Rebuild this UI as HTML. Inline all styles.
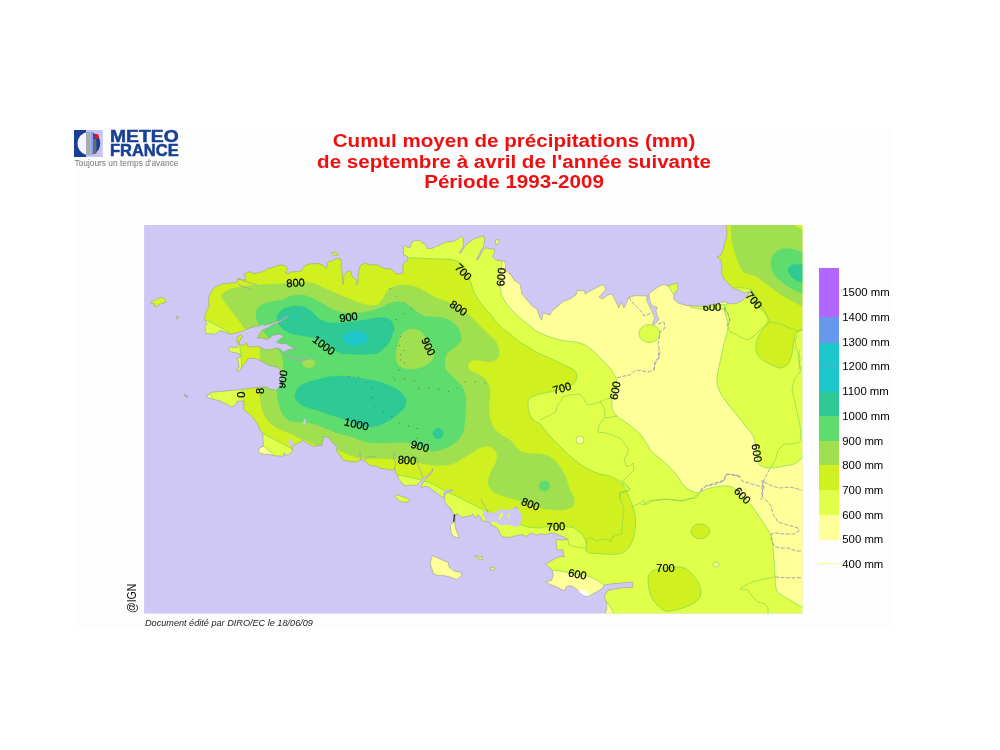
<!DOCTYPE html>
<html lang="fr">
<head>
<meta charset="utf-8">
<title>Cumul moyen de précipitations (mm)</title>
<style>
html,body{margin:0;padding:0;background:#fff;}
body{width:1000px;height:750px;position:relative;overflow:hidden;font-family:"Liberation Sans",Arial,sans-serif;}
.panel{position:absolute;left:74px;top:128px;width:816px;height:501px;background:#fdfdfd;}
.map{position:absolute;left:0;top:0;}
.title{position:absolute;left:213.6px;top:131.2px;width:600px;text-align:center;color:#ee1010;font-weight:bold;font-size:17.6px;line-height:20.4px;white-space:nowrap;transform:scaleX(1.17);transform-origin:50% 0;}
.logo{position:absolute;left:74px;top:129px;width:106px;height:40px;}
.logo .ic{position:absolute;left:0;top:1px;}
.logo .n1,.logo .n2{position:absolute;left:36.4px;color:#173f96;font-weight:bold;font-size:15.9px;line-height:14px;white-space:nowrap;transform-origin:0 0;-webkit-text-stroke:0.5px #173f96;}
.logo .n1{top:0.9px;transform:scaleX(1.215);}
.logo .n2{top:15.4px;transform:scaleX(1.037);}
.logo .tag{position:absolute;left:0.4px;top:29.9px;font-size:8.4px;line-height:9px;color:#777;white-space:nowrap;}
.sw{position:absolute;left:819px;width:20.3px;}
.ll{position:absolute;left:842.3px;font-size:11.35px;line-height:14px;color:#000;white-space:nowrap;}
.l400{position:absolute;left:820px;top:563.3px;width:19px;height:1px;background:#ffff99;}
.foot{position:absolute;left:145px;top:616.7px;font-size:9.13px;line-height:12px;font-style:italic;color:#222;white-space:nowrap;}
.ign{position:absolute;left:123.6px;top:612.9px;font-size:10.5px;line-height:12px;color:#111;transform-origin:0 0;transform:rotate(-90deg) scaleY(1.2);white-space:nowrap;}
</style>
</head>
<body>
<div class="panel"></div>
<svg class="map" width="1000" height="750" viewBox="0 0 1000 750">
<defs><clipPath id="frame"><rect x="144.1" y="225.0" width="658.1999999999999" height="388.5"/></clipPath>
<clipPath id="land"><path d="M726,225L727,232L726.4,238L725,242L723,250L721,255L717,257L721,260L722,266L721.6,274L724,279L729,284L734,289L740,290.4L744,293L749,292L752,290L747,296L743,300L738,303L730,304L724,301.6L716,304L700,306.4L686,305.4L678,303L673.6,299L674,294L678,289L677,283L668,285.6L663,284.4L658,287L652.4,291L648.8,294L650,301.2L652.4,306L657.2,307.2L656,310.8L657.2,315.6L659,319.2L657.2,321.6L653.6,325.2L652.4,324L654.8,318L652.4,312L649.4,306L646.4,299.4L647.2,296L642.8,295.8L636,295.6L629,297L626,304L624,308L621,302L619,308L616,302L612,294L608,295L602,299L599,297L606,289L603,284.4L598,287L590,291L585,294L585,291L577,290.4L576,295L570,299L564,301L558,306L552,311L550,315L543,313L542,320L540,318L537,309L532,306L527,300L522,294L520,284L514,280L510,273L510,274.2L505.2,269.4L505.8,265.8L504.6,261L500.4,261L495.6,259.8L492,256.2L494.4,253.8L494.4,249L490.8,249L486,247.8L483.6,249L478.2,259.2L476.6,259.6L481.8,249L483,247.8L484.8,239.4L483.6,235.8L480,237L474,238.8L468,243L465,246L460.8,253.2L459.4,252.6L463.4,246.4L463.4,243L463.2,238.2L460.8,236.4L457.2,239.4L452.4,241.8L446.4,241.8L441.6,244.2L435.6,246.6L432,248.4L427.2,248.4L426,244.8L422.4,243L420,240.6L415.8,240.4L411.6,242.4L410.4,247.2L406.8,247.2L405,245.4L403.2,247.2L403.8,250.8L403.2,255L408,256.8L407.4,261L403.2,263.4L402.6,267L403.2,273L397.2,274.2L394.8,272.4L391.8,269.4L390,268.8L390,269L384,268.4L379.2,265.4L374.4,264.8L369.6,264.8L364.8,263L360,266L358.8,270.8L358.2,275.6L358.2,281.6L356.4,285.2L357,280.4L354,278L351,275L351.6,272L349.2,270.8L346.8,272L343.8,275.6L343.4,284.6L342.2,280.4L342.6,275.6L342,270.8L341,266L341.8,262.4L340.8,258.8L335.4,258.6L334.8,260L330,261.2L327.6,262.4L326.4,268.4L322.8,264.8L318,263.6L312,263.6L306,264.8L302.4,268.4L301.8,270.8L298.8,271.4L290.4,272L288,273.8L285.6,272.6L288,268.4L285.6,266L280.2,264.8L274.8,266.6L270,268.4L268,268L266,270L260,272.4L254,273.6L249,271.6L244.4,274L246,280L242,279.6L238,278L237,282.4L230,283L222,284L217,286L213,289L210,294L208.4,300L209,306L206,312L204.4,319L207,324L204.8,326.4L206,333.6L215.6,334.2L219.2,330.6L224,331.8L230,334.2L236,333L242,331.2L248,328.8L252.8,327L260,325.8L261.8,324L264.8,325.2L269.6,324L276.8,321.6L282.8,319.2L287.6,316.2L288.2,317L278,322.8L272,325.2L267.2,328.2L262.4,330L258.8,334.8L257,338.4L262.4,337.8L265.4,339.6L269.6,338.4L272,335.4L275.6,334.8L279.2,334.2L282.8,335.4L284,337.2L280.4,338.4L278,340.8L276.8,342.6L281.6,343.8L286.4,343.2L288.8,345.6L293.6,348L297.2,348.6L291.2,349.2L286.4,350.4L284,352.2L287.6,355.2L293.6,358.8L302,360L310.4,358.8L302,360.6L294.8,359.4L288.8,357L284,352.8L281.6,350.4L278,348L274.4,348.6L269.6,349.8L264.8,349.8L261.2,347.4L257.6,346.2L252.8,346.8L248,347L246.8,342.6L244.4,344.4L242,345.6L239.6,344.4L239,342L242.6,336L240.8,334.8L237.2,337.2L236.6,340.8L238.4,344.4L237.2,347.4L233.6,347.4L230,346.8L228.6,349.2L231.2,352.2L236,352.8L239.6,354L240.8,356.4L237.2,358.2L238.4,362.4L239,367.2L236.6,370.2L238.4,371.4L242,367.2L245.6,362.4L248,358.8L251.6,358.2L256.4,358.8L260,360.6L263.6,362.4L267.2,364.8L272,366L276.8,367.2L280.4,369.6L281.6,372L281.6,378L280.4,384L279.2,387.6L276,390L270,389L266,387L260,387L252,388L244,389L236,390L226,391L218,391.6L210,392.4L206,397L212,399L220,401L226,404L232,407L237,403.6L237,401L244,401L243.6,409.6L248.4,413.2L253.2,418L256.8,422.8L259.2,427.6L261,431.8L262.8,433.6L263,439.6L263.4,446.2L259.2,448L258.6,452.8L264,454.2L270,454.6L274.8,455.8L283.2,456.2L284.4,452.8L285.6,455.2L289.2,454.6L292.8,450.4L292.2,447.4L292.8,445.6L296.4,443.8L301.2,442L302.4,440.2L305.4,442L309.6,444.4L313.2,446.2L321.6,445.6L322.8,442L323.4,437.2L326.4,436.6L329.4,437.8L331.2,441.4L334.8,445L337.8,446.8L336,450.4L339.6,454.6L343.2,460L350.4,461.8L357.6,461.8L360,460L360.4,460L364,460L367.6,463.6L371.2,466L376,465.8L379.6,468.4L385.6,469L392.8,470.2L394.6,468.4L395.2,472L397.6,475.6L398.8,479.2L401.2,482.2L404.8,485.8L409.6,485.4L416.8,485.2L419.2,482.8L421.6,480.4L422.8,478L426.4,476.2L431.2,472L433,468.4L432.2,472.2L428.8,476.2L425.2,479.2L422.8,482.8L421.6,485.2L421,488.2L424,486.4L428.8,487L432.4,490L436,492.4L439.6,495.4L443.2,497.8L444.4,492.4L448,490.6L452.8,490L450.4,491.8L446.8,493L444.4,496L444.4,500.8L446.8,505L450.4,508L452.8,512.8L454,516.4L455,514.8L454.2,522L455.1,522L456.2,513.6L459.2,514.8L461.6,517.2L466.4,516.6L471.2,515.4L473,514.2L476,518.4L477.8,514.8L480.8,517.2L482,520.8L486.2,521.4L490.4,523L491,525L496.4,527.4L499.4,531L500,534.6L503.6,537L509.6,537.4L515.6,535.8L521.6,534.6L526.4,536.4L529.4,534L532.4,532.8L536,535.2L540.8,534L545.6,534.6L551.6,532.8L556.4,534L561.2,535.8L566,538.2L568.4,539.4L562.4,540L557,539.4L555.8,541.8L557,546L555.8,549L558.8,550.2L562.4,549.6L563.6,552L563,555L564.8,556.8L560,556.4L554,559.2L549.2,562.2L545,564.4L549.2,567L552.2,570.6L553.4,575.4L551.6,580.2L545.6,582L550.4,584.4L556.4,586.8L562.4,589.8L565.4,590.4L566,586.8L569.6,585.6L573.2,586.8L576.8,589.2L580.4,592.2L584,595.8L588.8,596.4L592.4,594L597.2,591.6L602,588.6L604.4,585L611.6,583.8L620,583.2L626,582.4L629.6,582L632.6,582.4L633,585L632,588L628.4,587.4L621.2,588L614,589.2L608,590.4L605.6,593.4L604.4,597.6L606.8,603L606.8,609L605,614.4L810,620L810,220ZM150.2,302.6L154.4,300.2L158,298.4L161.6,297.2L164.6,299L166.4,302L162.8,303.2L159.2,304.4L156.8,306.2L153.8,306.2L155,303.8L152,303.2ZM176.2,316.6L178,316.2L178.6,317.8L177.2,318.8L176,318ZM331,253.4L333,252.2L336,252.6L338.6,254.6L337.2,255.4L333.6,255ZM495.6,240L498.6,239.4L499,241.8L497.4,244.8L495.6,244.2ZM394.6,495.8L397.6,494.8L402.4,496.6L407.2,498.4L409.6,500.2L409,502.2L405.4,501.8L402.4,502.2L398.8,500.2L395.8,497.8ZM432.4,555.6L438,558L444,561L448,562L449,567L454,571L461,572.4L461.6,575.6L457,579.4L450,577L444,575.6L438,575.6L433,573L432,569L430.4,565L431,559ZM474.4,555.2L480,557L482.4,556.4L482,560L478,558.4ZM490,568L493,567L495,568L494,570L491,570.4ZM454.2,522.2L450.2,525L450.8,530.4L452,535.2L455.6,537L459.2,538.2L458,534.6L456.2,530.4L455.1,525.6L455.1,522.2ZM184,394.4L186,395.2L188,396.8L187.2,397.2L185.2,396Z"/></clipPath></defs>
<g clip-path="url(#frame)">
<rect x="140" y="220" width="670" height="400" fill="#cfc8f5"/>
<g clip-path="url(#land)">
<rect x="140" y="220" width="670" height="400" fill="#e0ff4a"/>
<path d="M502,250C485.7,253.7 502.3,257.8 502,262C501.7,266.2 500.3,271 500,275C499.7,279 499.7,282.5 500,286C500.3,289.5 500.3,292.3 502,296C503.7,299.7 507,304.3 510,308C513,311.7 516.7,315 520,318C523.3,321 526.7,323.5 530,326C533.3,328.5 535,330.7 540,333C545,335.3 553.3,338.3 560,340C566.7,341.7 574.7,341.3 580,343C585.3,344.7 588.3,347.2 592,350C595.7,352.8 599,357 602,360C605,363 607.8,365.3 610,368C612.2,370.7 613.8,373.3 615,376C616.2,378.7 617.3,380.7 617,384C616.7,387.3 613.8,392 613,396C612.2,400 611.3,404.7 612,408C612.7,411.3 614.3,413.3 617,416C619.7,418.7 624.2,421 628,424C631.8,427 636.7,430.3 640,434C643.3,437.7 646,443 648,446C650,449 649.3,449.3 652,452C654.7,454.7 660,458.3 664,462C668,465.7 672.7,470 676,474C679.3,478 681,483 684,486C687,489 691.3,491 694,492C696.7,493 697.3,492.7 700,492C702.7,491.3 706,489 710,488C714,487 720,486 724,486C728,486 731,486.3 734,488C737,489.7 739,493 742,496C745,499 749,502.3 752,506C755,509.7 757.3,514 760,518C762.7,522 766,526.3 768,530C770,533.7 771,535 772,540C773,545 773.5,554 774,560C774.5,566 774.7,571.3 775,576C775.3,580.7 775.2,585 776,588C776.8,591 777.7,592 780,594C782.3,596 786.3,597.8 790,600C793.7,602.2 798.3,605.3 802,607C805.7,608.7 810.3,635.2 812,610C813.7,584.8 813.7,481.5 812,456C810.3,430.5 804,456.3 802,457C800,457.7 801.3,458.8 800,460C798.7,461.2 796.7,463 794,464C791.3,465 787.7,465.3 784,466C780.3,466.7 775.3,467.8 772,468C768.7,468.2 766.3,468 764,467C761.7,466 759.5,466.2 758,462C756.5,457.8 756,446.7 755,442C754,437.3 753.8,437 752,434C750.2,431 746.7,427.3 744,424C741.3,420.7 738.7,417.3 736,414C733.3,410.7 730.7,407.7 728,404C725.3,400.3 721.8,396 720,392C718.2,388 717,385 717,380C717,375 718.8,368 720,362C721.2,356 722.7,350 724,344C725.3,338 728,332 728,326C728,320 724.7,314 724,308C723.3,302 744.7,301.3 724,290C703.3,278.7 637,246.7 600,240C563,233.3 518.3,246.3 502,250Z" fill="#ffff99" stroke="#7ed957" stroke-width="0.7"/>
<path d="M552.2,570.6C554.2,569.5 557.3,570.9 560,571.2C562.7,571.5 565.4,571.9 568.4,572.4C571.4,572.9 574.8,573.6 578,574.2C581.2,574.8 584.8,575.2 587.6,576C590.4,576.8 592.8,578 594.8,579C596.8,580 598.1,581 599.6,582C601.1,583 602.6,583.3 603.8,585C605,586.7 607.9,590.2 606.8,592.2C605.7,594.2 601,596 597.2,597C593.4,598 589.2,599 584,598.2C578.8,597.4 572.6,594.8 566,592.2C559.4,589.6 547.4,585 544.4,582.6C541.4,580.2 546.7,579.8 548,577.8C549.3,575.8 550.2,571.7 552.2,570.6Z" fill="#ffff99" stroke="#7ed957" stroke-width="0.7"/>
<path d="M605.6,601.8L607,601.8L614.6,614.4L604.4,614.4Z" fill="#ffff99" stroke="#7ed957" stroke-width="0.7"/>
<path d="M264,446.2L258,447.4L256.8,454L270,455.8L274.8,456.2L268.8,450.4Z" fill="#ffff99" stroke="#7ed957" stroke-width="0.7"/>
<path d="M205,397L211,394L212.4,399.4Z" fill="#ffff99" stroke="#7ed957" stroke-width="0.7"/>
<ellipse cx="649.5" cy="333.5" rx="10.5" ry="9" fill="#e0ff4a" stroke="#7ed957" stroke-width="0.7"/>
<path d="M668,285.6L677,282.4L678.4,289L673.6,294.4Z" fill="#e0ff4a" stroke="#7ed957" stroke-width="0.7"/>
<path d="M686,303L700,305.5L712,306L724,304L726,309L712,309.5L700,309L690,307Z" fill="#e0ff4a" stroke="#7ed957" stroke-width="0.7"/>
<path d="M404,240C404,242.7 401.3,253 404,256C406.7,259 414,257.5 420,258C426,258.5 434.3,258.7 440,259C445.7,259.3 450,258.8 454,260C458,261.2 461.3,262.7 464,266C466.7,269.3 468.3,275.7 470,280C471.7,284.3 472.3,288.3 474,292C475.7,295.7 477.3,298.3 480,302C482.7,305.7 486.7,310 490,314C493.3,318 496.7,322.7 500,326C503.3,329.3 506.7,331.3 510,334C513.3,336.7 516.7,339.7 520,342C523.3,344.3 526.7,346 530,348C533.3,350 536.3,352.2 540,354C543.7,355.8 548,357.2 552,359C556,360.8 560.3,363.2 564,365C567.7,366.8 571.8,368.2 574,370C576.2,371.8 576.8,374 577,376C577.2,378 576.2,380.3 575,382C573.8,383.7 574.2,384.3 570,386C565.8,387.7 555,390.7 550,392C545,393.3 543.3,393 540,394C536.7,395 532,396.2 530,398C528,399.8 528,402.2 528,405C528,407.8 528.7,412.2 530,415C531.3,417.8 534.3,420.5 536,422C537.7,423.5 537.7,421.7 540,424C542.3,426.3 546.7,432.3 550,436C553.3,439.7 556.7,442.7 560,446C563.3,449.3 566.7,453 570,456C573.3,459 576.7,461.7 580,464C583.3,466.3 586.7,468.3 590,470C593.3,471.7 596.7,473 600,474C603.3,475 606.7,474.7 610,476C613.3,477.3 617.3,479.7 620,482C622.7,484.3 624.3,487 626,490C627.7,493 628.7,496.7 630,500C631.3,503.3 633.1,506.3 634,510C634.9,513.7 635.6,517.7 635.6,522C635.6,526.3 634.9,532 634,536C633.1,540 632,543.2 630,546C628,548.8 625.3,551.6 622,553C618.7,554.4 614,554.3 610,554.4C606,554.5 601.8,554 598,553.6C594.2,553.2 589,553.9 587,552C585,550.1 586.7,544.7 586,542C585.3,539.3 584.3,537.8 583,536C581.7,534.2 580.2,532.5 578,531C575.8,529.5 575.3,527.7 570,527C564.7,526.3 551,526.8 546,527C541,527.2 543,528 540,528C537,528 532,527.8 528,527C524,526.2 520,524.5 516,523C512,521.5 508,519.7 504,518C500,516.3 495.3,514.3 492,513C488.7,511.7 487.3,511.5 484,510C480.7,508.5 476,506 472,504C468,502 463.7,499.8 460,498C456.3,496.2 453.3,494.7 450,493C446.7,491.3 443.3,489.7 440,488C436.7,486.3 432.7,484.2 430,483C427.3,481.8 427.3,482 424,481C420.7,480 414,477.9 410,477C406,476.1 402.3,475.7 400,475.5C397.7,475.3 396.7,475.9 396,476L396,492L300,482L292.8,449.2L263,433.6L250,432L236,408L244,402L242,389L242,372L241.4,360L239.6,344.4L236,338L230,333.6L224,329.6L216.8,325.4L207.2,320.6L196,318L196,240Z" fill="#d0f020" stroke="#7ed957" stroke-width="0.7"/>
<path d="M810,330C808.7,330 804.3,329.3 802,330C799.7,330.7 797.3,332.3 796,334C794.7,335.7 794.7,336.7 794,340C793.3,343.3 793,350 792,354C791,358 790,361.7 788,364C786,366.3 783,368 780,368C777,368 773.3,365.7 770,364C766.7,362.3 762.3,360.3 760,358C757.7,355.7 756.5,353 756,350C755.5,347 756,343.3 757,340C758,336.7 760.2,333.3 762,330C763.8,326.7 768,323.3 768,320C768,316.7 764.3,313.2 762,310C759.7,306.8 755.7,304.3 754,301C752.3,297.7 752.3,291.8 752,290L745,288L700,288L700,220L810,220Z" fill="#d0f020" stroke="#7ed957" stroke-width="0.7"/>
<path d="M648,580C648.2,577.3 648.3,574.8 650,573C651.7,571.2 653,570 658,569C663,568 674.7,566.5 680,567C685.3,567.5 687,569.5 690,572C693,574.5 696.2,578.7 698,582C699.8,585.3 701,589 701,592C701,595 700.2,597.7 698,600C695.8,602.3 691.7,604.3 688,606C684.3,607.7 679.7,609.2 676,610C672.3,610.8 669,611.7 666,611C663,610.3 660.3,608.2 658,606C655.7,603.8 653.5,600.8 652,598C650.5,595.2 649.7,592 649,589C648.3,586 647.8,582.7 648,580Z" fill="#d0f020" stroke="#7ed957" stroke-width="0.7"/>
<ellipse cx="700.3" cy="531.3" rx="9.3" ry="7.5" fill="#d0f020" stroke="#7ed957" stroke-width="0.7"/>
<ellipse cx="716" cy="564.5" rx="3" ry="2.5" fill="#ffff99" stroke="#7ed957" stroke-width="0.7"/>
<ellipse cx="580" cy="440" rx="4" ry="4" fill="#ffff99" stroke="#7ed957" stroke-width="0.7"/>
<path d="M221,296C222.2,295 224.8,291.5 228,290C231.2,288.5 235.3,287.8 240,287C244.7,286.2 250,285.5 256,285C262,284.5 270,284.3 276,284C282,283.7 286,283.2 292,283C298,282.8 306.7,282.2 312,283C317.3,283.8 319.3,286 324,288C328.7,290 335.3,293 340,295C344.7,297 347.7,298.3 352,300C356.3,301.7 362,304.2 366,305C370,305.8 373.3,305.8 376,305C378.7,304.2 380,302.5 382,300C384,297.5 385.7,292.3 388,290C390.3,287.7 393,286.8 396,286C399,285.2 402.7,284.8 406,285C409.3,285.2 412.7,285.8 416,287C419.3,288.2 422.7,290.2 426,292C429.3,293.8 432.3,296.3 436,298C439.7,299.7 444.3,300.3 448,302C451.7,303.7 454.3,305.7 458,308C461.7,310.3 466.3,313 470,316C473.7,319 477,323 480,326C483,329 485.3,331.3 488,334C490.7,336.7 494.2,339.3 496,342C497.8,344.7 498.7,347.3 499,350C499.3,352.7 499.2,356.1 498,358C496.8,359.9 494.3,361 492,361.5C489.7,362 486.7,361.2 484,361C481.3,360.8 478.3,359.8 476,360C473.7,360.2 471.3,361 470,362C468.7,363 467.8,364.5 468,366C468.2,367.5 469.3,369.7 471,371C472.7,372.3 475.5,372.5 478,374C480.5,375.5 484,377.3 486,380C488,382.7 489.5,385.7 490,390C490.5,394.3 489,401.3 489,406C489,410.7 489.2,414.3 490,418C490.8,421.7 492.3,425.3 494,428C495.7,430.7 497.3,432 500,434C502.7,436 507.3,437.8 510,440C512.7,442.2 514,445 516,447C518,449 519.7,450.9 522,452C524.3,453.1 527,453.2 530,453.5C533,453.8 537,453.6 540,454C543,454.4 545.3,454.7 548,456C550.7,457.3 553.7,459.7 556,462C558.3,464.3 560.3,467.3 562,470C563.7,472.7 564.7,474.7 566,478C567.3,481.3 568.7,486.7 570,490C571.3,493.3 573.3,495.7 574,498C574.7,500.3 574.7,502.3 574,504C573.3,505.7 572.3,507 570,508C567.7,509 563.3,509.7 560,510C556.7,510.3 553.3,509.9 550,509.6C546.7,509.3 543.3,508.8 540,508C536.7,507.2 533.3,506.2 530,505C526.7,503.8 523.3,502.2 520,501C516.7,499.8 513.3,499 510,498C506.7,497 502.7,496 500,495C497.3,494 495.7,493.2 494,492C492.3,490.8 491,489.5 490,488C489,486.5 488.2,484.7 488,483C487.8,481.3 488.3,480.2 489,478C489.7,475.8 490.8,472.7 492,470C493.2,467.3 495.2,464.5 496,462C496.8,459.5 497.3,457.2 497,455C496.7,452.8 495.5,450.5 494,449C492.5,447.5 490.3,446.2 488,446C485.7,445.8 483,446.7 480,448C477,449.3 473.3,452 470,454C466.7,456 463,458.3 460,460C457,461.7 455.3,463.1 452,464C448.7,464.9 443.5,465.3 440,465.5C436.5,465.7 433.7,465.2 431,465C428.3,464.8 426.3,464.4 424,464C421.7,463.6 422.2,463.2 417,462.4C411.8,461.6 397.8,459.6 393,459C388.2,458.4 390.5,458.9 388,458.8C385.5,458.7 381.2,458.7 378,458.6C374.8,458.5 372.2,458.4 369,458.2C365.8,458 361.8,458 359,457.6C356.2,457.2 354.2,456.5 352,455.8C349.8,455.1 348,454.2 346,453.4C344,452.6 341.7,451.6 340,451C338.3,450.4 336.7,450.2 336,450L336,458L322,447.5L305,440L297,437.5L295.2,435.4L290.4,433.6L284.4,431.2L278.4,428.8L272.4,425.2L267.6,420.4L264,414.4L261.6,407.2L260.4,400L258,388L259,375L260,360.6L260,347.4L255,338L245,329L240,322L234,314L226,304Z" fill="#a0e050" stroke="#a0e050" stroke-width="0.4"/>
<path d="M731,220C731,220.8 730.8,221.7 731,225C731.2,228.3 731.2,234.8 732,240C732.8,245.2 734.3,251 736,256C737.7,261 740,267 742,270C744,273 745.7,273 748,274C750.3,275 753.3,274.7 756,276C758.7,277.3 761.3,280 764,282C766.7,284 769.3,286 772,288C774.7,290 777,292 780,294C783,296 786.3,298 790,300C793.7,302 798.3,304.3 802,306C805.7,307.7 810.3,309.3 812,310L812,232L802,230L794,225L792,220Z" fill="#a0e050" stroke="#a0e050" stroke-width="0.4"/>
<path d="M256,312C256.5,309.7 257.7,307.7 260,306C262.3,304.3 266.3,303 270,302C273.7,301 278.7,300.9 282,300C285.3,299.1 287,297.2 290,296.4C293,295.6 296.7,294.9 300,295C303.3,295.1 306.7,295.8 310,297C313.3,298.2 316.7,300.2 320,302C323.3,303.8 326.7,306.3 330,308C333.3,309.7 336.3,311.2 340,312C343.7,312.8 347.7,313 352,313C356.3,313 361.3,312.8 366,312C370.7,311.2 376,309.5 380,308C384,306.5 386.7,304 390,303C393.3,302 397,301.7 400,302C403,302.3 405.3,303.5 408,305C410.7,306.5 413.3,309.2 416,311C418.7,312.8 421,315 424,316C427,317 430.7,316.7 434,317C437.3,317.3 441,317.2 444,318C447,318.8 449.7,320.3 452,322C454.3,323.7 456.5,325.7 458,328C459.5,330.3 460.7,333.7 461,336C461.3,338.3 461.2,340 460,342C458.8,344 456,346.3 454,348C452,349.7 449.5,350.3 448,352C446.5,353.7 445.5,356 445,358C444.5,360 444.8,362 445,364C445.2,366 445.2,368.3 446,370C446.8,371.7 448.3,372.3 450,374C451.7,375.7 454,378 456,380C458,382 460.5,383.7 462,386C463.5,388.3 464.3,390.7 465,394C465.7,397.3 466,401.7 466,406C466,410.3 465.5,415.7 465,420C464.5,424.3 464.2,428.7 463,432C461.8,435.3 460.2,437.7 458,440C455.8,442.3 453,444.3 450,446C447,447.7 443,449.2 440,450C437,450.8 435.3,451.5 432,451C428.7,450.5 424,448.3 420,447C416,445.7 412,443.8 408,443C404,442.2 400.7,442.4 396,442.4C391.3,442.4 385,443.1 380,443C375,442.9 370,442.8 366,442C362,441.2 359.3,439.2 356,438C352.7,436.8 348.7,435.7 346,435C343.3,434.3 342.7,434.8 340,434C337.3,433.2 333.3,431.3 330,430C326.7,428.7 323.3,427.2 320,426C316.7,424.8 313.3,423.7 310,423C306.7,422.3 303.3,422.3 300,422C296.7,421.7 292.7,422 290,421C287.3,420 285.7,418.2 284,416C282.3,413.8 281,410.7 280,408C279,405.3 278.5,403 278,400C277.5,397 276.8,393.3 277,390C277.2,386.7 278,383 279,380C280,377 282.3,375.3 283,372C283.7,368.7 283.2,363 283,360C282.8,357 282.6,356 281.6,354C280.6,352 278.6,350.2 277,348C275.4,345.8 273.2,342.6 272,341C270.8,339.4 270.4,339.2 269.6,338.4C268.8,337.6 268.2,337.2 267.2,336C266.2,334.8 264.8,332.9 263.6,331.2C262.4,329.5 261.1,327.7 260,325.8C258.9,323.9 257.7,322.3 257,320C256.3,317.7 255.5,314.3 256,312Z" fill="#5edc6e" stroke="#5edc6e" stroke-width="0.4"/>
<path d="M812,250C810.3,250.3 805.3,252.2 802,252C798.7,251.8 795.3,249.5 792,249C788.7,248.5 785,248.2 782,249C779,249.8 775.8,251.5 774,254C772.2,256.5 771,260.7 771,264C771,267.3 772.2,271 774,274C775.8,277 779,279.5 782,282C785,284.5 788.7,287.2 792,289C795.3,290.8 798.7,291.8 802,293C805.3,294.2 810.3,295.5 812,296Z" fill="#5edc6e" stroke="#5edc6e" stroke-width="0.4"/>
<ellipse cx="544.4" cy="486" rx="5.4" ry="5.2" fill="#5edc6e" stroke="#5edc6e" stroke-width="0.4"/>
<path d="M400,338C401.2,335.3 402,333.5 404,332C406,330.5 409.3,329.2 412,329C414.7,328.8 417.7,329.5 420,331C422.3,332.5 424,335.2 426,338C428,340.8 430.7,345 432,348C433.3,351 434.3,353.7 434,356C433.7,358.3 432,360.2 430,362C428,363.8 424.7,365.8 422,367C419.3,368.2 417,368.8 414,369C411,369.2 406.7,368.8 404,368C401.3,367.2 399.3,365.7 398,364C396.7,362.3 396.2,360.7 396,358C395.8,355.3 396.3,351.3 397,348C397.7,344.7 398.8,340.7 400,338Z" fill="#a0e050" stroke="#a0e050" stroke-width="0.4"/>
<ellipse cx="308.6" cy="363.3" rx="6.5" ry="4.6" fill="#a0e050" stroke="#a0e050" stroke-width="0.4"/>
<path d="M277,318C277,315.7 278.5,313.7 280,312C281.5,310.3 283.3,309 286,308C288.7,307 293,306.2 296,306C299,305.8 301.3,306 304,307C306.7,308 309.7,310.2 312,312C314.3,313.8 315.7,316.3 318,318C320.3,319.7 323.3,321.2 326,322C328.7,322.8 331.7,322.8 334,323C336.3,323.2 337,323.2 340,323C343,322.8 348,322.5 352,322C356,321.5 360,320.7 364,320C368,319.3 372.3,318.3 376,318C379.7,317.7 383.3,317.3 386,318C388.7,318.7 390.7,320.3 392,322C393.3,323.7 393.6,325.7 393.6,328C393.6,330.3 392.9,333.3 392,336C391.1,338.7 389.7,341.7 388,344C386.3,346.3 384,348.4 382,350C380,351.6 379,352.9 376,353.6C373,354.3 368,354.3 364,354.4C360,354.5 356,354.2 352,354C348,353.8 343.7,354.3 340,353C336.3,351.7 333.3,348.2 330,346C326.7,343.8 323.3,341.5 320,340C316.7,338.5 313.7,337.8 310,337C306.3,336.2 301.7,335.8 298,335C294.3,334.2 291,333.5 288,332C285,330.5 281.8,328.3 280,326C278.2,323.7 277,320.3 277,318Z" fill="#2ec994" stroke="#2ec994" stroke-width="0.4"/>
<path d="M295,396C295,393.7 296.2,390.2 298,388C299.8,385.8 303,384.3 306,383C309,381.7 312.3,381 316,380C319.7,379 324,377.7 328,377C332,376.3 336,376 340,376C344,376 348,376.5 352,377C356,377.5 360,378.3 364,379C368,379.7 372,380 376,381C380,382 384.3,383.5 388,385C391.7,386.5 395.3,388.2 398,390C400.7,391.8 402.7,394 404,396C405.3,398 406,400 406,402C406,404 405.3,406 404,408C402.7,410 400.3,412 398,414C395.7,416 393,418.2 390,420C387,421.8 383.3,423.8 380,425C376.7,426.2 373.3,426.8 370,427C366.7,427.2 363.7,427 360,426C356.3,425 351.3,422.3 348,421C344.7,419.7 343.3,419.2 340,418C336.7,416.8 332,415.3 328,414C324,412.7 319.7,411.2 316,410C312.3,408.8 309,408.3 306,407C303,405.7 299.8,403.8 298,402C296.2,400.2 295,398.3 295,396Z" fill="#2ec994" stroke="#2ec994" stroke-width="0.4"/>
<ellipse cx="438" cy="433.5" rx="5" ry="5.2" fill="#2ec994" stroke="#2ec994" stroke-width="0.4"/>
<path d="M812,264C810.3,264.1 805.3,264.2 802,264.4C798.7,264.6 794.3,264.1 792,265C789.7,265.9 788.2,268.2 788,270C787.8,271.8 789.7,274.3 791,276C792.3,277.7 794.2,279 796,280C797.8,281 799.3,281.5 802,282C804.7,282.5 810.3,282.8 812,283Z" fill="#2ec994" stroke="#2ec994" stroke-width="0.4"/>
<ellipse cx="355.5" cy="338.5" rx="12.5" ry="7.5" fill="#1ec8c8" stroke="#1ec8c8" stroke-width="0.4"/>
<ellipse cx="294" cy="317.4" rx="1.8" ry="1.6" fill="#1ec8c8"/>
</g>
<path d="M150.2,302.6L154.4,300.2L158,298.4L161.6,297.2L164.6,299L166.4,302L162.8,303.2L159.2,304.4L156.8,306.2L153.8,306.2L155,303.8L152,303.2Z" fill="#d6f62a"/>
<path d="M176.2,316.6L178,316.2L178.6,317.8L177.2,318.8L176,318Z" fill="#b8e860"/>
<path d="M331,253.4L333,252.2L336,252.6L338.6,254.6L337.2,255.4L333.6,255Z" fill="#d8f830"/>
<path d="M495.6,240L498.6,239.4L499,241.8L497.4,244.8L495.6,244.2Z" fill="#f0ff70"/>
<path d="M394.6,495.8L397.6,494.8L402.4,496.6L407.2,498.4L409.6,500.2L409,502.2L405.4,501.8L402.4,502.2L398.8,500.2L395.8,497.8Z" fill="#e0ff4a"/>
<path d="M432.4,555.6L438,558L444,561L448,562L449,567L454,571L461,572.4L461.6,575.6L457,579.4L450,577L444,575.6L438,575.6L433,573L432,569L430.4,565L431,559Z" fill="#ffff99"/>
<path d="M474.4,555.2L480,557L482.4,556.4L482,560L478,558.4Z" fill="#e0ff4a"/>
<path d="M490,568L493,567L495,568L494,570L491,570.4Z" fill="#e0ff4a"/>
<path d="M454.2,522.2L450.2,525L450.8,530.4L452,535.2L455.6,537L459.2,538.2L458,534.6L456.2,530.4L455.1,525.6L455.1,522.2Z" fill="#ffff99"/>
<path d="M184,394.4L186,395.2L188,396.8L187.2,397.2L185.2,396Z" fill="#a0a0a0"/>
<path d="M486.2,521.4L484.4,517.8L482.6,514.8L483.2,510.6L488,512.2L492.8,513L496.4,512.4L499.4,508.8L502.4,509.4L507.2,510L513.2,508.8L515,506.6L518.6,509.4L519.8,512.4L522.2,514.8L522.2,518.4L520.6,522.6L519.2,526.2L514.4,526.8L509.6,525L505.4,524.4L502.4,525.6L498.8,524.6L496.4,522L492.8,521.4L490.4,522.7Z" fill="#cfc8f5"/>
<path d="M290.4,438.4L292.2,439.6L292.8,445.6L292.3,447.5L291.4,446.8L289.2,444.4L288,442Z" fill="#cfc8f5"/>
<path d="M304.2,418.6L305.8,419.8L305.4,423.4L304.2,425.4L303,424.6L303.6,421.6Z" fill="#cfc8f5"/>
<path d="M444.2,493.2L444.8,490.2L448.4,489.6L453.2,490.6L451.4,492L447.2,492Z" fill="#cfc8f5"/>
<path d="M501.2,512.4L503.6,514.8L500.6,518.4L498.8,520.8L498.8,517.2Z" fill="#e0ff4a"/>
<path d="M509,513.8L510.8,514.8L507.8,517.8L506.6,516.6Z" fill="#e0ff4a"/>
<path d="M726,225L727,232L726.4,238L725,242L723,250L721,255L717,257L721,260L722,266L721.6,274L724,279L729,284L734,289L740,290.4L744,293L749,292L752,290L747,296L743,300L738,303L730,304L724,301.6L716,304L700,306.4L686,305.4L678,303L673.6,299L674,294L678,289L677,283L668,285.6L663,284.4L658,287L652.4,291L648.8,294L650,301.2L652.4,306L657.2,307.2L656,310.8L657.2,315.6L659,319.2L657.2,321.6L653.6,325.2L652.4,324L654.8,318L652.4,312L649.4,306L646.4,299.4L647.2,296L642.8,295.8L636,295.6L629,297L626,304L624,308L621,302L619,308L616,302L612,294L608,295L602,299L599,297L606,289L603,284.4L598,287L590,291L585,294L585,291L577,290.4L576,295L570,299L564,301L558,306L552,311L550,315L543,313L542,320L540,318L537,309L532,306L527,300L522,294L520,284L514,280L510,273L510,274.2L505.2,269.4L505.8,265.8L504.6,261L500.4,261L495.6,259.8L492,256.2L494.4,253.8L494.4,249L490.8,249L486,247.8L483.6,249L478.2,259.2L476.6,259.6L481.8,249L483,247.8L484.8,239.4L483.6,235.8L480,237L474,238.8L468,243L465,246L460.8,253.2L459.4,252.6L463.4,246.4L463.4,243L463.2,238.2L460.8,236.4L457.2,239.4L452.4,241.8L446.4,241.8L441.6,244.2L435.6,246.6L432,248.4L427.2,248.4L426,244.8L422.4,243L420,240.6L415.8,240.4L411.6,242.4L410.4,247.2L406.8,247.2L405,245.4L403.2,247.2L403.8,250.8L403.2,255L408,256.8L407.4,261L403.2,263.4L402.6,267L403.2,273L397.2,274.2L394.8,272.4L391.8,269.4L390,268.8L390,269L384,268.4L379.2,265.4L374.4,264.8L369.6,264.8L364.8,263L360,266L358.8,270.8L358.2,275.6L358.2,281.6L356.4,285.2L357,280.4L354,278L351,275L351.6,272L349.2,270.8L346.8,272L343.8,275.6L343.4,284.6L342.2,280.4L342.6,275.6L342,270.8L341,266L341.8,262.4L340.8,258.8L335.4,258.6L334.8,260L330,261.2L327.6,262.4L326.4,268.4L322.8,264.8L318,263.6L312,263.6L306,264.8L302.4,268.4L301.8,270.8L298.8,271.4L290.4,272L288,273.8L285.6,272.6L288,268.4L285.6,266L280.2,264.8L274.8,266.6L270,268.4L268,268L266,270L260,272.4L254,273.6L249,271.6L244.4,274L246,280L242,279.6L238,278L237,282.4L230,283L222,284L217,286L213,289L210,294L208.4,300L209,306L206,312L204.4,319L207,324L204.8,326.4L206,333.6L215.6,334.2L219.2,330.6L224,331.8L230,334.2L236,333L242,331.2L248,328.8L252.8,327L260,325.8L261.8,324L264.8,325.2L269.6,324L276.8,321.6L282.8,319.2L287.6,316.2L288.2,317L278,322.8L272,325.2L267.2,328.2L262.4,330L258.8,334.8L257,338.4L262.4,337.8L265.4,339.6L269.6,338.4L272,335.4L275.6,334.8L279.2,334.2L282.8,335.4L284,337.2L280.4,338.4L278,340.8L276.8,342.6L281.6,343.8L286.4,343.2L288.8,345.6L293.6,348L297.2,348.6L291.2,349.2L286.4,350.4L284,352.2L287.6,355.2L293.6,358.8L302,360L310.4,358.8L302,360.6L294.8,359.4L288.8,357L284,352.8L281.6,350.4L278,348L274.4,348.6L269.6,349.8L264.8,349.8L261.2,347.4L257.6,346.2L252.8,346.8L248,347L246.8,342.6L244.4,344.4L242,345.6L239.6,344.4L239,342L242.6,336L240.8,334.8L237.2,337.2L236.6,340.8L238.4,344.4L237.2,347.4L233.6,347.4L230,346.8L228.6,349.2L231.2,352.2L236,352.8L239.6,354L240.8,356.4L237.2,358.2L238.4,362.4L239,367.2L236.6,370.2L238.4,371.4L242,367.2L245.6,362.4L248,358.8L251.6,358.2L256.4,358.8L260,360.6L263.6,362.4L267.2,364.8L272,366L276.8,367.2L280.4,369.6L281.6,372L281.6,378L280.4,384L279.2,387.6L276,390L270,389L266,387L260,387L252,388L244,389L236,390L226,391L218,391.6L210,392.4L206,397L212,399L220,401L226,404L232,407L237,403.6L237,401L244,401L243.6,409.6L248.4,413.2L253.2,418L256.8,422.8L259.2,427.6L261,431.8L262.8,433.6L263,439.6L263.4,446.2L259.2,448L258.6,452.8L264,454.2L270,454.6L274.8,455.8L283.2,456.2L284.4,452.8L285.6,455.2L289.2,454.6L292.8,450.4L292.2,447.4L292.8,445.6L296.4,443.8L301.2,442L302.4,440.2L305.4,442L309.6,444.4L313.2,446.2L321.6,445.6L322.8,442L323.4,437.2L326.4,436.6L329.4,437.8L331.2,441.4L334.8,445L337.8,446.8L336,450.4L339.6,454.6L343.2,460L350.4,461.8L357.6,461.8L360,460L360.4,460L364,460L367.6,463.6L371.2,466L376,465.8L379.6,468.4L385.6,469L392.8,470.2L394.6,468.4L395.2,472L397.6,475.6L398.8,479.2L401.2,482.2L404.8,485.8L409.6,485.4L416.8,485.2L419.2,482.8L421.6,480.4L422.8,478L426.4,476.2L431.2,472L433,468.4L432.2,472.2L428.8,476.2L425.2,479.2L422.8,482.8L421.6,485.2L421,488.2L424,486.4L428.8,487L432.4,490L436,492.4L439.6,495.4L443.2,497.8L444.4,492.4L448,490.6L452.8,490L450.4,491.8L446.8,493L444.4,496L444.4,500.8L446.8,505L450.4,508L452.8,512.8L454,516.4L455,514.8L454.2,522L455.1,522L456.2,513.6L459.2,514.8L461.6,517.2L466.4,516.6L471.2,515.4L473,514.2L476,518.4L477.8,514.8L480.8,517.2L482,520.8L486.2,521.4L490.4,523L491,525L496.4,527.4L499.4,531L500,534.6L503.6,537L509.6,537.4L515.6,535.8L521.6,534.6L526.4,536.4L529.4,534L532.4,532.8L536,535.2L540.8,534L545.6,534.6L551.6,532.8L556.4,534L561.2,535.8L566,538.2L568.4,539.4L562.4,540L557,539.4L555.8,541.8L557,546L555.8,549L558.8,550.2L562.4,549.6L563.6,552L563,555L564.8,556.8L560,556.4L554,559.2L549.2,562.2L545,564.4L549.2,567L552.2,570.6L553.4,575.4L551.6,580.2L545.6,582L550.4,584.4L556.4,586.8L562.4,589.8L565.4,590.4L566,586.8L569.6,585.6L573.2,586.8L576.8,589.2L580.4,592.2L584,595.8L588.8,596.4L592.4,594L597.2,591.6L602,588.6L604.4,585L611.6,583.8L620,583.2L626,582.4L629.6,582L632.6,582.4L633,585L632,588L628.4,587.4L621.2,588L614,589.2L608,590.4L605.6,593.4L604.4,597.6L606.8,603L606.8,609L605,614.4L810,620L810,220ZM150.2,302.6L154.4,300.2L158,298.4L161.6,297.2L164.6,299L166.4,302L162.8,303.2L159.2,304.4L156.8,306.2L153.8,306.2L155,303.8L152,303.2ZM176.2,316.6L178,316.2L178.6,317.8L177.2,318.8L176,318ZM331,253.4L333,252.2L336,252.6L338.6,254.6L337.2,255.4L333.6,255ZM495.6,240L498.6,239.4L499,241.8L497.4,244.8L495.6,244.2ZM394.6,495.8L397.6,494.8L402.4,496.6L407.2,498.4L409.6,500.2L409,502.2L405.4,501.8L402.4,502.2L398.8,500.2L395.8,497.8ZM432.4,555.6L438,558L444,561L448,562L449,567L454,571L461,572.4L461.6,575.6L457,579.4L450,577L444,575.6L438,575.6L433,573L432,569L430.4,565L431,559ZM474.4,555.2L480,557L482.4,556.4L482,560L478,558.4ZM490,568L493,567L495,568L494,570L491,570.4ZM454.2,522.2L450.2,525L450.8,530.4L452,535.2L455.6,537L459.2,538.2L458,534.6L456.2,530.4L455.1,525.6L455.1,522.2ZM184,394.4L186,395.2L188,396.8L187.2,397.2L185.2,396Z" fill="none" stroke="#9a9a9a" stroke-width="0.6"/>
<g clip-path="url(#land)" fill="none" stroke-linejoin="round">
<path d="M540.0,420.0L548.0,416.0L556.0,412.0L557.0,406.0L561.0,401.0L562.0,397.0L570.0,395.0L580.0,394.0L584.0,399.0L587.0,405.0L594.0,404.0L600.0,402.0L606.0,399.0L612.0,398.0M600.0,401.0L604.0,408.0L605.0,416.0L604.0,418.0L612.0,417.0L617.0,416.0M604.0,419.0L599.0,425.0L598.0,432.0L606.0,433.0L614.0,436.0L620.0,438.0L624.0,443.0L628.0,448.0L628.0,454.0L624.0,458.0L626.0,466.0L630.0,466.0L633.0,463.0L634.0,470.0L630.0,474.0L626.0,478.0L622.0,483.0L628.0,488.0L630.0,490.0L626.0,491.0L620.0,494.0L620.0,500.0M800.0,350.0L798.0,358.0L801.0,370.0L794.0,380.0L792.0,390.0L795.0,402.0L798.0,416.0L800.0,426.0L801.0,434.0L800.0,442.0L792.0,444.0L784.0,444.0L778.0,450.0L776.0,458.0L772.0,466.0L770.0,468.0M640.0,504.0L644.0,505.0L648.0,501.0L656.0,500.0L664.0,499.0L672.0,500.0L680.0,501.0L688.0,499.0L696.0,498.0L700.0,493.0M740.0,589.0L744.0,586.0L752.0,582.0L764.0,579.0L774.0,577.0M740.0,589.0L748.0,590.0L752.0,596.0L758.0,602.0L765.0,604.0L768.0,608.0L768.0,613.6M620.0,480.0L626.0,484.0L630.0,489.0L628.0,491.0L620.0,492.0L620.0,499.0L623.0,506.0L624.0,510.0L623.0,518.0L622.0,526.0L622.0,534.0L617.0,535.0L612.0,537.0L611.0,542.0L606.0,539.0L600.0,540.0L596.0,541.0L590.0,537.0L587.0,540.0L586.4,544.0M633.0,506.0L640.0,503.0L644.0,500.0L645.0,505.0L652.0,501.0L660.0,500.0L668.0,499.0L676.0,500.0L684.0,501.0L692.0,498.0L700.0,493.0M568.0,539.6L569.0,545.0L576.0,547.0L584.0,548.0L586.4,549.0M724.0,307.0L728.0,314.0L730.0,320.0L728.0,326.0L730.0,332.0L736.0,334.0L742.0,338.0L748.0,340.0L754.0,336.0L760.0,330.0L768.0,324.0L770.0,322.0M770.0,322.0L780.0,324.0L790.0,328.0L798.0,331.0L802.0,329.0M798.0,335.0L795.0,340.0L796.0,348.0L800.0,358.0L799.0,370.0M752.0,290.0L758.0,300.0L764.0,310.0L770.0,322.0" stroke="#8ed552" stroke-width="0.7"/>
<path d="M617.0,378.0L624.0,376.0L630.0,375.0L636.0,370.0L642.0,371.0L648.0,372.0L654.0,370.0L655.0,361.0L659.0,358.0L658.0,350.0M700.0,492.0L706.0,486.0L716.0,484.0L724.0,481.0L727.0,474.0L734.0,475.0L740.0,476.0M700.0,490.0L706.0,486.0L716.0,483.0L724.0,480.0L726.0,474.0L734.0,475.0L740.0,477.0L742.0,481.0L752.0,484.0L762.0,487.0L764.0,480.0L768.0,472.0L770.0,469.0M762.0,487.0L763.0,494.0L761.0,500.0M764.0,482.0L772.0,486.0L780.0,488.0L790.0,487.0L802.0,490.0M762.0,480.0L764.0,488.0L761.0,495.0L766.0,500.0L771.0,506.0L773.0,514.0L778.0,522.0L788.0,525.0L798.0,528.0L799.0,531.0L794.0,534.0L784.0,534.0L776.0,533.0L771.0,534.0L772.0,540.0L774.0,546.0L780.0,548.0L788.0,548.0L796.0,551.0L802.0,551.0M775.0,577.0L784.0,577.6L792.0,578.0L802.0,577.6M629.0,297.0L632.0,302.0L638.0,308.0L642.0,312.0L644.0,316.0L649.0,314.0L652.0,312.0M658.0,324.0L664.0,322.0L665.0,328.0L660.0,332.0L659.0,338.0L658.0,344.0L660.0,352.0L659.0,358.0L655.0,364.0L654.0,370.0M724.0,308.0L728.0,314.0L730.0,320.0L727.0,326.0" stroke="#8f8fbe" stroke-width="0.8" stroke-dasharray="4 1.5"/>
<path d="M390.0,288.0L398.0,298.0L404.0,302.0L412.0,309.0L396.0,318.0L394.0,330.0L402.0,338.0L400.0,344.0L398.0,352.0L404.0,358.0L404.0,364.0L400.0,368.0M404.0,350.0L400.0,362.0L399.0,372.0L390.0,381.0L402.0,378.0L415.0,381.0L418.0,389.0L434.0,388.0L450.0,392.0L457.0,388.0L465.0,382.0L484.0,382.0L489.0,390.0M372.0,387.0L371.0,402.0L376.0,407.0L394.0,418.0L402.0,425.0L417.0,427.0L418.0,436.0L416.0,442.0L417.0,459.0M348.0,377.0L360.0,377.0L372.0,387.0" stroke="#3a5a4a" stroke-width="0.8" stroke-dasharray="1 9"/>
</g>
<path d="M578.0,590.4L582.8,589.8L586.4,591.0L590.0,594.0L588.8,595.8L584.0,595.6L580.4,592.8Z" fill="#ffffff"/>
<path d="M454.6,514.4L453.6,521.6" stroke="#222" stroke-width="1.2" fill="none"/>
<path d="M272.0,325.0L278.0,322.6L282.8,319.2L287.8,316.4M284.0,352.4L288.2,355.8L294.2,359.0L302.0,360.2L310.4,358.8" stroke="#b0a8c8" stroke-width="0.8" fill="none"/>
<path d="M359.8,451.0L360.2,455.8L360.6,459.8M364.0,459.5L368.8,457.1L376.0,456.2M395.0,451.4L393.4,457.6L395.8,463.6L394.2,469.6M416.8,458.8L418.2,465.4L422.8,477.0M481.0,499.2L483.2,504.0L485.6,507.4L488.0,512.2M513.2,509.0L515.4,506.6L518.2,509.2M238.0,284.0L244.0,287.0L252.0,289.6M238.0,279.0L248.0,282.0L257.0,285.0" stroke="#9c9ca6" stroke-width="0.7" fill="none"/>
</g>
<g font-family="'Liberation Sans', Arial, sans-serif" font-size="11.1" fill="#000" stroke="#000" stroke-width="0.22" text-anchor="middle">
<text transform="translate(295.5 282.7) rotate(-3)" y="4">800</text>
<text transform="translate(348.5 317) rotate(-8)" y="4">900</text>
<text transform="translate(324 345.2) rotate(37)" y="4">1000</text>
<text transform="translate(428.5 346.5) rotate(65)" y="4">900</text>
<text transform="translate(463.5 272) rotate(45)" y="4">700</text>
<text transform="translate(501 277) rotate(-85)" y="4">600</text>
<text transform="translate(458.5 308) rotate(35)" y="4">800</text>
<text transform="translate(562 388) rotate(-15)" y="4">700</text>
<text transform="translate(615 390.5) rotate(-80)" y="4">600</text>
<g clip-path="url(#land)"><text transform="translate(712 307) rotate(0)" y="4">600</text></g>
<g clip-path="url(#land)"><text transform="translate(754 300.3) rotate(49)" y="4">700</text></g>
<text transform="translate(757 453) rotate(80)" y="4">600</text>
<text transform="translate(742.5 495.5) rotate(45)" y="4">600</text>
<text transform="translate(665.5 568) rotate(0)" y="4">700</text>
<text transform="translate(577.5 574) rotate(10)" y="4">600</text>
<text transform="translate(556 526.5) rotate(-3)" y="4">700</text>
<text transform="translate(530.5 504) rotate(20)" y="4">800</text>
<text transform="translate(407 460) rotate(5)" y="4">800</text>
<text transform="translate(420 446) rotate(15)" y="4">900</text>
<text transform="translate(356.5 424) rotate(12)" y="4">1000</text>
<clipPath id="lc1"><rect x="236" y="391.3" width="10" height="6.6"/></clipPath><g clip-path="url(#lc1)"><text transform="translate(241 394.6) rotate(-90)" y="4">700</text></g>
<clipPath id="lc2"><rect x="254" y="388" width="12" height="6"/></clipPath><g clip-path="url(#lc2)"><text transform="translate(259.8 384.7) rotate(-90)" y="4">800</text></g>
<clipPath id="lc3"><rect x="279.5" y="370" width="8" height="19"/></clipPath><g clip-path="url(#lc3)"><text transform="translate(282.3 379.3) rotate(-82)" y="4">900</text></g>
</g>
</svg>
<div class="logo">
<svg class="ic" width="30" height="28" viewBox="0 0 30 28">
<rect x="0" y="0" width="28.8" height="27" fill="#c9c3f0"/>
<rect x="0" y="0" width="12" height="27" fill="#173f96"/>
<ellipse cx="15" cy="13.5" rx="11.4" ry="11.6" fill="#f4f2ff"/>
<path d="M19,2.7 A11.4,11.6 0 0 1 19,24.3 Z" fill="#173f96"/>
<rect x="12" y="1.9" width="4.6" height="23.2" fill="#a9a9b4"/>
<rect x="16.6" y="1.9" width="2.6" height="23.2" fill="#7fa2ee"/>
<rect x="19.2" y="9" width="3.2" height="15" fill="#6b6b78"/>
<circle cx="22.6" cy="6.4" r="2.3" fill="#ee1122"/>
</svg>
<div class="n1">METEO</div>
<div class="n2">FRANCE</div>
<div class="tag">Toujours un temps d'avance</div>
</div>
<div class="title">Cumul moyen de précipitations (mm)<br>de septembre à avril de l'année suivante<br>Période 1993-2009</div>
<div class="sw" style="top:268.00px;height:24.90px;background:#b266ff"></div>
<div class="sw" style="top:292.60px;height:24.80px;background:#b266ff"></div>
<div class="sw" style="top:317.10px;height:26.10px;background:#6699ee"></div>
<div class="sw" style="top:342.90px;height:23.40px;background:#1ec8c8"></div>
<div class="sw" style="top:366.00px;height:26.10px;background:#1ec8c8"></div>
<div class="sw" style="top:391.80px;height:24.60px;background:#2ec994"></div>
<div class="sw" style="top:416.10px;height:25.20px;background:#5edc6e"></div>
<div class="sw" style="top:441.00px;height:24.30px;background:#a0e050"></div>
<div class="sw" style="top:465.00px;height:25.00px;background:#d0f020"></div>
<div class="sw" style="top:489.70px;height:25.60px;background:#e0ff4a"></div>
<div class="sw" style="top:515.00px;height:25.10px;background:#ffff99"></div>
<div class="sw" style="top:365.2px;height:0.8px;background:#4fb0dc"></div>
<div class="ll" style="top:285.40px">1500 mm</div>
<div class="ll" style="top:309.90px">1400 mm</div>
<div class="ll" style="top:334.90px">1300 mm</div>
<div class="ll" style="top:359.40px">1200 mm</div>
<div class="ll" style="top:384.10px">1100 mm</div>
<div class="ll" style="top:408.90px">1000 mm</div>
<div class="ll" style="top:433.50px">900 mm</div>
<div class="ll" style="top:458.10px">800 mm</div>
<div class="ll" style="top:482.80px">700 mm</div>
<div class="ll" style="top:507.50px">600 mm</div>
<div class="ll" style="top:532.10px">500 mm</div>
<div class="ll" style="top:556.60px">400 mm</div>
<div class="l400"></div>
<div class="foot">Document édité par DIRO/EC le 18/06/09</div>
<div class="ign">@IGN</div>
</body>
</html>
